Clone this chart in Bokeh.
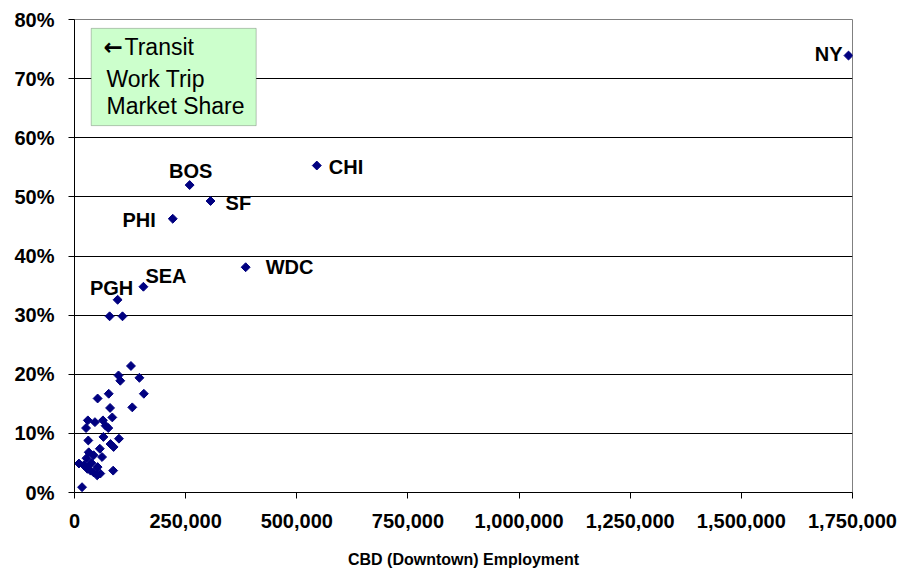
from bokeh.plotting import figure
from bokeh.models import (Range1d, FixedTicker, NumeralTickFormatter, PrintfTickFormatter,
                          BoxAnnotation, Label, ColumnDataSource)
from bokeh.core.properties import value
from bokeh.embed import file_html
from bokeh.resources import INLINE

# ---------------- data ----------------
city_names = ["NY", "CHI", "BOS", "SF", "PHI", "WDC", "SEA", "PGH"]
city_emp = [1741000, 545000, 259000, 306000, 221000, 385000, 155000, 97000]
city_share = [73.9, 55.3, 52.0, 49.3, 46.3, 38.1, 34.8, 32.6]

other_emp = [79000, 108000, 127000, 99000, 103000, 146000, 77000, 52000, 156000, 80000,
             130000, 85000, 30000, 46000, 26000, 64000, 70000, 76000, 65000, 100000,
             31000, 81000, 88000, 57000, 32000, 43000, 62000, 10000, 21000, 52000,
             29000, 36000, 43000, 51000, 58000, 87000, 17000, 27000, 38000]
other_share = [29.8, 29.8, 21.4, 19.8, 18.9, 19.4, 16.7, 15.9, 16.7, 14.3,
               14.4, 12.7, 12.2, 11.9, 10.9, 12.2, 11.3, 10.9, 9.4, 9.1,
               8.8, 8.2, 7.7, 7.4, 6.8, 6.3, 6.0, 4.9, 4.6, 4.3,
               4.0, 3.7, 3.4, 2.9, 3.2, 3.7, 0.9, 5.8, 5.0]

x_ticks = [0, 250000, 500000, 750000, 1000000, 1250000, 1500000, 1750000]
y_ticks = [0, 10, 20, 30, 40, 50, 60, 70, 80]

x_title = "CBD (Downtown) Employment"
note_lines = ["Transit", "Work Trip", "Market Share"]

# ---------------- label layout (screen offsets) ----------------
label_layout = {
    "NY": ("right", -6, -2),
    "CHI": ("left", 12, 1),
    "BOS": ("center", 1, -14),
    "SF": ("left", 15, 2),
    "PHI": ("right", -17, 1),
    "WDC": ("left", 20, 0),
    "SEA": ("left", 2, -11),
    "PGH": ("center", -6, -12),
}

FONT = "Liberation Sans"

p = figure(frame_width=778, frame_height=473,
           x_range=Range1d(0, 1750000), y_range=Range1d(0, 80),
           output_backend="svg", toolbar_location=None,
           min_border_left=74, min_border_right=47, min_border_top=19, min_border_bottom=75,
           background_fill_color="white", border_fill_color="white")

p.outline_line_color = "#808080"
p.outline_line_width = 1

p.xgrid.visible = False
p.ygrid.grid_line_color = "black"
p.ygrid.grid_line_width = 1

p.xaxis.ticker = FixedTicker(ticks=x_ticks)
p.yaxis.ticker = FixedTicker(ticks=y_ticks)
p.xaxis.formatter = NumeralTickFormatter(format="0,0")
p.yaxis.formatter = PrintfTickFormatter(format="%d%%")

for ax in (p.xaxis[0], p.yaxis[0]):
    ax.axis_line_color = "black"
    ax.axis_line_width = 1
    ax.major_tick_line_color = "black"
    ax.major_tick_out = 6
    ax.major_tick_in = 0
    ax.minor_tick_line_color = None
    ax.major_label_text_font = FONT
    ax.major_label_text_font_style = "bold"
    ax.major_label_text_font_size = "20px"
    ax.major_label_text_color = "black"

p.xaxis.major_label_standoff = 15
p.yaxis.major_label_standoff = 14

p.xaxis.axis_label = x_title
p.xaxis.axis_label_text_font = FONT
p.xaxis.axis_label_text_font_style = "bold"
p.xaxis.axis_label_text_font_size = "16px"
p.xaxis.axis_label_text_color = "black"
p.xaxis.axis_label_standoff = 20

# points
all_emp = city_emp + other_emp
all_share = city_share + other_share
p.scatter(all_emp, all_share, marker="square", angle=0.7854, size=6.3,
          fill_color="#000080", line_color="#000080")

# city labels
src = ColumnDataSource(dict(
    x=city_emp, y=city_share, t=city_names,
    align=[label_layout[c][0] for c in city_names],
    xo=[label_layout[c][1] for c in city_names],
    yo=[label_layout[c][2] for c in city_names],
))
p.text(x="x", y="y", text="t", source=src, text_align="align", x_offset="xo", y_offset="yo",
       text_baseline="middle", text_font=value(FONT), text_font_style="bold",
       text_font_size="20px", text_color="black")

# note box
p.add_layout(BoxAnnotation(left=37600, right=408700, top=78.5, bottom=62.05,
                           fill_color="#ccffcc", fill_alpha=1.0,
                           line_color="#404040", line_width=1))
p.add_layout(Label(x=65200, y=75.4, text="\u2190", text_font="DejaVu Sans",
                   text_font_style="bold", text_font_size="23px",
                   text_baseline="middle", text_color="black"))
p.add_layout(Label(x=112500, y=75.4, text=note_lines[0], text_font=FONT,
                   text_font_size="23px", text_baseline="middle", text_color="black"))
p.add_layout(Label(x=72000, y=70.0, text=note_lines[1], text_font=FONT,
                   text_font_size="23px", text_baseline="middle", text_color="black"))
p.add_layout(Label(x=72000, y=65.3, text=note_lines[2], text_font=FONT,
                   text_font_size="23px", text_baseline="middle", text_color="black"))

open("out.html", "w").write(file_html(p, INLINE))
